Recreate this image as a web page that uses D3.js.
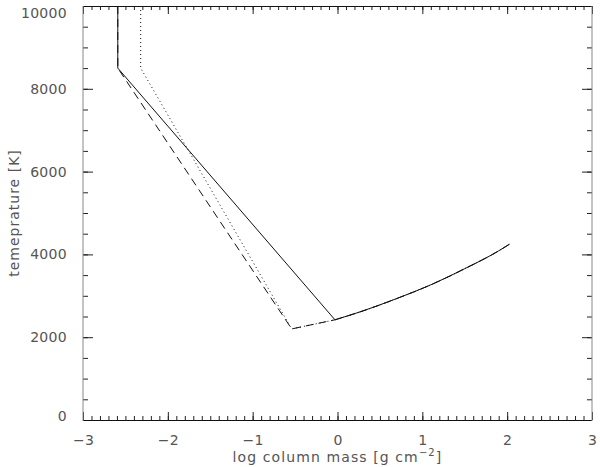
<!DOCTYPE html>
<html><head><meta charset="utf-8">
<script src="https://cdn.jsdelivr.net/npm/d3@7"></script>
<style>body{margin:0;background:#fff}svg{display:block}</style>
</head><body><svg id="c" width="600" height="467"></svg>
<script>
// Data
const xTicks = [-3, -2, -1, 0, 1, 2, 3];
const yTicks = [0, 2000, 4000, 6000, 8000, 10000];
const curveX = [-0.03, 0.3, 0.7, 1.1, 1.5, 1.9, 2.03];
const curveT = [2420, 2635, 2935, 3265, 3655, 4085, 4250];
const solidX = [-2.59, -2.59];
const solidT = [10000, 8500];
const dashedX = [-2.59, -2.59, -0.54];
const dashedT = [10000, 8500, 2200];
const dottedX = [-2.32, -2.32, -0.54];
const dottedT = [10000, 8500, 2200];

(function () {
const svg = d3.select("#c");
const L = 83, R = 592, T = 6, B = 420;
const x = d3.scaleLinear().domain([-3, 3]).range([L, R]);
const y = d3.scaleLinear().domain([0, 10000]).range([B, T]);

const series = [
  {xs: solidX, ts: solidT, dash: null},
  {xs: dashedX, ts: dashedT, dash: "8,5"},
  {xs: dottedX, ts: dottedT, dash: "1,3"}
];
const line = d3.line().x(d => x(d[0])).y(d => y(d[1]));
const smooth = d3.line().curve(d3.curveMonotoneX).x(d => x(d[0])).y(d => y(d[1]));
const curvePts = curveX.map((v,i)=>[v, curveT[i]]);
svg.append("defs").append("clipPath").attr("id","clip").append("rect")
  .attr("x", L).attr("y", T).attr("width", R-L).attr("height", B-T);
const g = svg.append("g").attr("clip-path","url(#clip)");
series.forEach(s => {
  const pts = s.xs.map((v,i)=>[v, s.ts[i]]).concat([curvePts[0]]);
  g.append("path").datum(pts)
    .attr("d", line).attr("fill","none").attr("stroke","#111")
    .attr("stroke-width",1).attr("stroke-dasharray", s.dash);
  g.append("path").datum(curvePts)
    .attr("d", smooth).attr("fill","none").attr("stroke","#111")
    .attr("stroke-width",1).attr("stroke-dasharray", s.dash);
});

// Axes (IDL style box with ticks on all sides)
const xMinor = d3.range(-3, 3.0001, 0.1);
const yMinor = d3.range(0, 10001, 500);
const font = "'DejaVu Sans', sans-serif";
svg.append("g").attr("transform",`translate(0,${B})`)
  .call(d3.axisBottom(x).tickValues(xMinor).tickSize(-4).tickFormat(""));
svg.append("g").attr("transform",`translate(0,${B})`)
  .call(d3.axisBottom(x).tickValues(xTicks).tickSize(-8).tickPadding(15)
    .tickFormat(d => d < 0 ? "\u2212" + Math.abs(d) : d));
svg.append("g").attr("transform",`translate(0,${T})`)
  .call(d3.axisTop(x).tickValues(xMinor).tickSize(-4).tickFormat(""));
svg.append("g").attr("transform",`translate(0,${T})`)
  .call(d3.axisTop(x).tickValues(xTicks).tickSize(-8).tickFormat(""));
svg.append("g").attr("transform",`translate(${L},0)`)
  .call(d3.axisLeft(y).tickValues(yMinor).tickSize(-5).tickFormat(""));
const yl = svg.append("g").attr("transform",`translate(${L},0)`)
  .call(d3.axisLeft(y).tickValues(yTicks).tickSize(-10).tickPadding(16).tickFormat(d3.format("d")));
svg.append("g").attr("transform",`translate(${R},0)`)
  .call(d3.axisRight(y).tickValues(yMinor).tickSize(-5).tickFormat(""));
svg.append("g").attr("transform",`translate(${R},0)`)
  .call(d3.axisRight(y).tickValues(yTicks).tickSize(-10).tickFormat(""));
svg.selectAll(".domain").remove();
svg.selectAll(".tick line").attr("stroke","#222");
svg.selectAll(".tick text").attr("fill","#555").style("font-family",font)
  .style("font-size","14px").style("letter-spacing","0.3px");
// extreme labels kept inside the plot's vertical range, as in the reference
yl.selectAll(".tick text").attr("dy", d => d === 10000 ? "0.8em" : d === 0 ? "0em" : "0.32em");

// box
svg.append("line").attr("x1",L).attr("x2",R).attr("y1",B+0.5).attr("y2",B+0.5).attr("stroke","#111");
svg.append("line").attr("x1",L).attr("x2",R).attr("y1",T+0.5).attr("y2",T+0.5).attr("stroke","#111");
svg.append("line").attr("x1",L).attr("x2",L).attr("y1",T).attr("y2",B+1).attr("stroke","#888");
svg.append("line").attr("x1",R).attr("x2",R).attr("y1",T).attr("y2",B+1).attr("stroke","#888");

// titles
const xt = svg.append("text").attr("x", (L+R)/2).attr("y", 462).attr("text-anchor","middle")
  .attr("fill","#555").style("font-family",font).style("font-size","14px").style("letter-spacing","1.1px");
xt.append("tspan").text("log column mass [g cm");
xt.append("tspan").attr("dy",-6).style("font-size","10px").text("\u22122");
xt.append("tspan").attr("dy",6).text("]");
svg.append("text").attr("transform",`translate(19,${(T+B)/2}) rotate(-90)`)
  .attr("text-anchor","middle").attr("fill","#555")
  .style("font-family",font).style("font-size","14px").style("letter-spacing","1px")
  .text("temeprature [K]");
})();
</script></body></html>
